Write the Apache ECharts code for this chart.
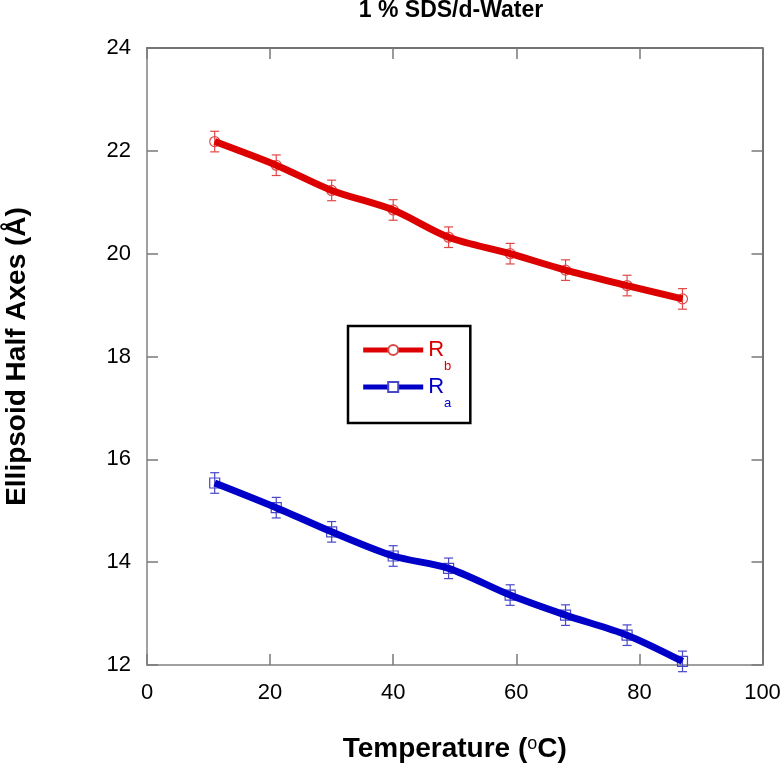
<!DOCTYPE html>
<html>
<head>
<meta charset="utf-8">
<script src="https://cdn.jsdelivr.net/npm/echarts@6/dist/echarts.min.js"></script>
<style>
html,body{margin:0;padding:0;background:#fff;}
#chart{width:782px;height:771px;}
</style>
</head>
<body>
<div id="chart"></div>
<script>
// ---- data ----
const temperatures = [11, 21, 30, 40, 49, 59, 68, 78, 87];
const rbValues = [22.18, 21.72, 21.23, 20.85, 20.32, 20.0, 19.68, 19.38, 19.12];
const rbErrors = [0.2, 0.2, 0.2, 0.2, 0.2, 0.2, 0.2, 0.2, 0.2];
const raValues = [15.54, 15.06, 14.59, 14.12, 13.88, 13.36, 12.97, 12.58, 12.07];
const raErrors = [0.2, 0.2, 0.2, 0.2, 0.2, 0.2, 0.2, 0.2, 0.2];
const xTicks = [0, 20, 40, 60, 80, 100];
const yTicks = [12, 14, 16, 18, 20, 22, 24];
const seriesNames = ['Rb', 'Ra'];

const FONT = "'Liberation Sans', Arial, sans-serif";
const RED = '#dc0000', RED_MK = '#e04848';
const BLUE = '#0000c8', BLUE_MK = '#4848c8';

function pairs(vals) { return temperatures.map((t, i) => [t, vals[i]]); }
function triples(vals, errs) { return temperatures.map((t, i) => [t, vals[i], errs[i]]); }

function errRenderer(color, shape) {
  return function (params, api) {
    const x = api.value(0), y = api.value(1), e = api.value(2);
    const c = api.coord([x, y]);
    const t = api.coord([x, y + e]);
    const b = api.coord([x, y - e]);
    const cap = 4.5, r = 5;
    const st = { stroke: color, lineWidth: 1.2, fill: null };
    const kids = [
      { type: 'line', shape: { x1: c[0], y1: t[1], x2: c[0], y2: b[1] }, style: st },
      { type: 'line', shape: { x1: c[0] - cap, y1: t[1], x2: c[0] + cap, y2: t[1] }, style: st },
      { type: 'line', shape: { x1: c[0] - cap, y1: b[1], x2: c[0] + cap, y2: b[1] }, style: st }
    ];
    if (shape === 'circle') {
      kids.push({ type: 'circle', shape: { cx: c[0], cy: c[1], r: r }, style: st });
    } else {
      kids.push({ type: 'rect', shape: { x: c[0] - r, y: c[1] - r, width: 2 * r, height: 2 * r }, style: st });
    }
    return { type: 'group', children: kids };
  };
}

const axisCommon = {
  splitLine: { show: false },
  axisTick: { inside: true, length: 11, lineStyle: { color: '#7a7a7a', width: 1.5 } }
};

const chart = echarts.init(document.getElementById('chart'), null, { renderer: 'canvas' });
chart.setOption({
  backgroundColor: '#fff',
  animation: false,
  title: {
    text: '1 % SDS/d-Water',
    left: 451, textAlign: 'center', top: -1, padding: 0,
    textStyle: { fontFamily: FONT, fontSize: 23, fontWeight: 'bold', color: '#000' }
  },
  grid: { left: 147, right: 19.5, top: 48, bottom: 106, containLabel: false, outerBoundsMode: 'none' },
  legend: {
    orient: 'vertical',
    left: 348, top: 326,
    data: seriesNames,
    itemWidth: 60, itemHeight: 12.5, itemGap: 3,
    padding: [13, 19, 13, 12.7],
    borderColor: '#000', borderWidth: 2.5,
    backgroundColor: '#fff',
    lineStyle: { width: 5 },
    selectedMode: false,
    formatter: function (name) {
      const base = name.charAt(0), sub = name.slice(1);
      const k = name === 'Rb' ? 'r' : 'b';
      return '{' + k + 'R|' + base + '}{' + k + 'S|' + sub + '}';
    },
    textStyle: {
      fontFamily: FONT,
      rich: {
        rR: { fontSize: 22, lineHeight: 22, color: RED, padding: [0, 0, 0, 0], verticalAlign: 'top', fontFamily: FONT },
        rS: { fontSize: 13, lineHeight: 12, color: RED, padding: [21, 0, 0, 0], verticalAlign: 'top', fontFamily: FONT },
        bR: { fontSize: 22, lineHeight: 22, color: BLUE, padding: [0, 0, 0, 0], verticalAlign: 'top', fontFamily: FONT },
        bS: { fontSize: 13, lineHeight: 12, color: BLUE, padding: [21, 0, 0, 0], verticalAlign: 'top', fontFamily: FONT }
      }
    }
  },
  xAxis: [
    Object.assign({}, axisCommon, {
      type: 'value', position: 'bottom',
      min: xTicks[0], max: xTicks[xTicks.length - 1], interval: xTicks[1] - xTicks[0],
      axisLine: { onZero: false, lineStyle: { color: '#a0a0a0', width: 2 } },
      axisLabel: { fontFamily: FONT, fontSize: 22, color: '#000', margin: 17 },
      name: 'Temperature ({sup|o}C)',
      nameLocation: 'middle', nameGap: 70,
      nameTextStyle: {
        fontFamily: FONT, fontSize: 28, fontWeight: 'bold', color: '#000',
        rich: { sup: { fontFamily: FONT, fontSize: 18, lineHeight: 18, verticalAlign: 'top', color: '#000', fontWeight: 'normal' } }
      }
    }),
    Object.assign({}, axisCommon, {
      type: 'value', position: 'top',
      min: xTicks[0], max: xTicks[xTicks.length - 1], interval: xTicks[1] - xTicks[0],
      axisLine: { onZero: false, lineStyle: { color: '#454545', width: 1.5 } },
      axisLabel: { show: false }
    })
  ],
  yAxis: [
    Object.assign({}, axisCommon, {
      type: 'value', position: 'left',
      min: yTicks[0], max: yTicks[yTicks.length - 1], interval: yTicks[1] - yTicks[0],
      axisLine: { show: true, onZero: false, lineStyle: { color: '#a0a0a0', width: 2 } },
      axisLabel: { fontFamily: FONT, fontSize: 22, color: '#000', margin: 16 },
      name: 'Ellipsoid Half Axes (Å)',
      nameLocation: 'middle', nameGap: 116,
      nameTextStyle: { fontFamily: FONT, fontSize: 28, fontWeight: 'bold', color: '#000' }
    }),
    Object.assign({}, axisCommon, {
      type: 'value', position: 'right',
      min: yTicks[0], max: yTicks[yTicks.length - 1], interval: yTicks[1] - yTicks[0],
      axisLine: { show: true, onZero: false, lineStyle: { color: '#454545', width: 1.5 } },
      axisLabel: { show: false }
    })
  ],
  series: [
    {
      name: 'Rb-err', type: 'custom', xAxisIndex: 0, yAxisIndex: 0, z: 2,
      data: triples(rbValues, rbErrors), renderItem: errRenderer(RED_MK, 'circle'), silent: true
    },
    {
      name: 'Ra-err', type: 'custom', xAxisIndex: 0, yAxisIndex: 0, z: 2,
      data: triples(raValues, raErrors), renderItem: errRenderer(BLUE_MK, 'rect'), silent: true
    },
    {
      name: 'Rb', type: 'line', xAxisIndex: 0, yAxisIndex: 0, z: 3,
      data: pairs(rbValues), smooth: 0.3,
      symbol: 'emptyCircle', showSymbol: false, symbolSize: 10,
      itemStyle: { color: RED_MK },
      lineStyle: { color: RED, width: 7 }
    },
    {
      name: 'Ra', type: 'line', xAxisIndex: 0, yAxisIndex: 0, z: 3,
      data: pairs(raValues), smooth: 0.3,
      symbol: 'emptyRect', showSymbol: false, symbolSize: 10,
      itemStyle: { color: BLUE_MK },
      lineStyle: { color: BLUE, width: 7 }
    }
  ]
});
</script>
</body>
</html>
